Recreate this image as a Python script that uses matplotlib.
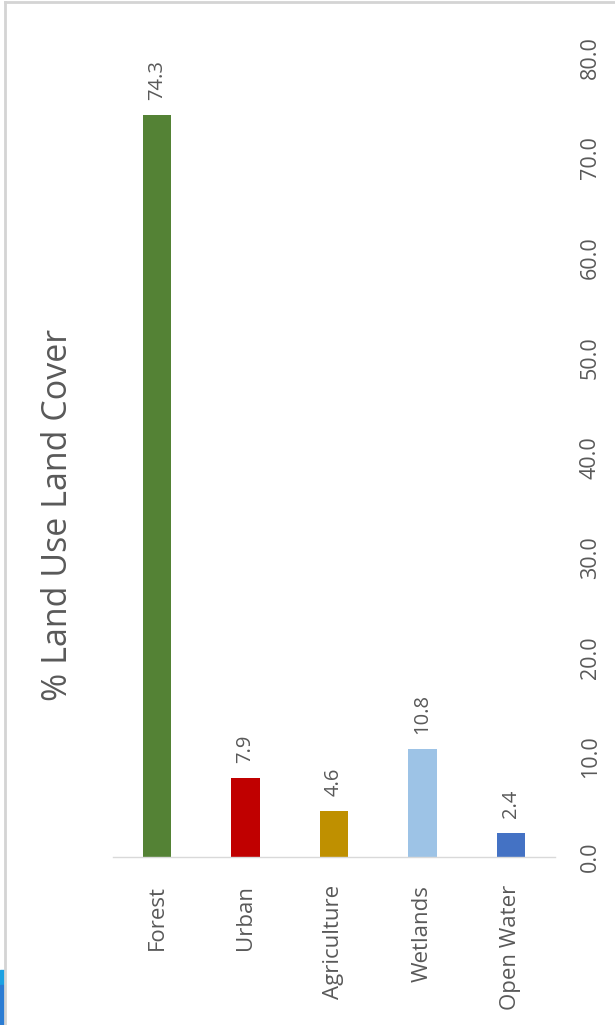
import matplotlib
matplotlib.use("Agg")
import matplotlib.pyplot as plt
from matplotlib.patches import Rectangle
from matplotlib.lines import Line2D

categories = ["Forest", "Urban", "Agriculture", "Wetlands", "Open Water"]
values = [74.3, 7.9, 4.6, 10.8, 2.4]
colors = ["#548235", "#c00000", "#bf9000", "#9dc3e6", "#4472c4"]
value_ticks = [0, 10, 20, 30, 40, 50, 60, 70, 80]
title = "% Land Use Land Cover"

plt.rcParams["font.family"] = ["Open Sans", "DejaVu Sans"]
text_color = "#595959"

W, H = 615, 1025
fig = plt.figure(figsize=(W / 100, H / 100), dpi=100)
ax = fig.add_axes([113 / W, (H - 857) / H, (555 - 113) / W, (857 - 58) / H])

x = list(range(len(categories)))
bars = ax.bar(x, values, width=0.32, color=colors, zorder=2)
ax.set_xlim(-0.5, len(categories) - 0.5)
ax.set_ylim(0, 80)

for rect, v in zip(bars, values):
    ax.annotate(f"{v:.1f}", (rect.get_x() + rect.get_width() / 2, v),
                xytext=(0, 11), textcoords="offset points",
                rotation=90, ha="center", va="bottom",
                fontsize=14.5, color=text_color)

for side in ["top", "left", "right"]:
    ax.spines[side].set_visible(False)
ax.spines["bottom"].set_color("#d9d9d9")
ax.spines["bottom"].set_linewidth(1.0)

ax.set_xticks(x)
ax.set_xticklabels(categories, rotation=90, fontsize=16, color=text_color)
ax.tick_params(axis="x", length=0, pad=20)

ax.yaxis.tick_right()
ax.set_yticks(value_ticks)
ax.set_yticklabels([f"{t:.1f}" for t in value_ticks], rotation=90,
                   fontsize=15.5, color=text_color, va="center")
ax.tick_params(axis="y", length=0, pad=18)

fig.text(58 / W, 1 - 515 / H, title, rotation=90, ha="center", va="center",
         fontsize=24.5, color=text_color)

# outer frame on top and left
fig.add_artist(Line2D([5 / W, 1], [1 - 2 / H, 1 - 2 / H], color="#d4d4d4", lw=2,
                      transform=fig.transFigure))
fig.add_artist(Line2D([5 / W, 5 / W], [0, 1 - 2 / H], color="#d4d4d4", lw=2,
                      transform=fig.transFigure))
fig.add_artist(Rectangle((0, 1 - 985 / H), 4 / W, 15 / H, color="#1ba1e2",
                         transform=fig.transFigure))
fig.add_artist(Rectangle((0, 0), 4 / W, 40 / H, color="#2b7cd3",
                         transform=fig.transFigure))

fig.savefig("out.png", dpi=100)
